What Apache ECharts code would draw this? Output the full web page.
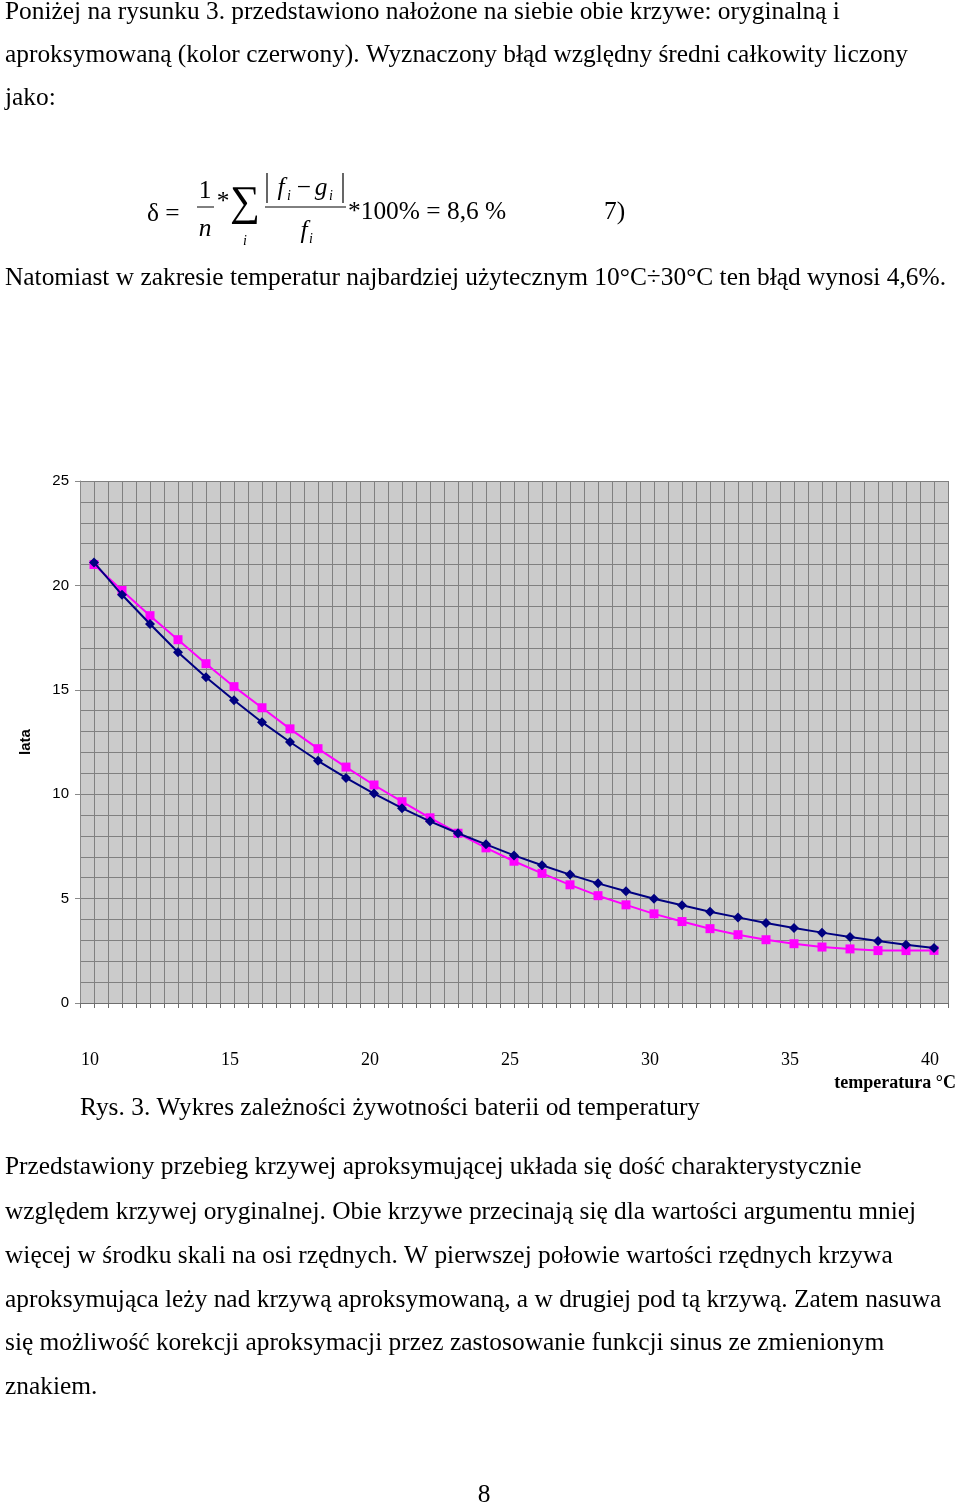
<!DOCTYPE html>
<html>
<head>
<meta charset="utf-8">
<script src="https://cdn.jsdelivr.net/npm/echarts@6/dist/echarts.min.js"></script>
<style>
html,body{margin:0;padding:0;background:#fff;}
#chart{width:960px;height:1505px;}
</style>
</head>
<body>
<div id="chart"></div>
<script>
// ---- data ----
const temperatures = [10,11,12,13,14,15,16,17,18,19,20,21,22,23,24,25,26,27,28,29,30,31,32,33,34,35,36,37,38,39,40];
const original = [21.1,19.55,18.15,16.8,15.6,14.5,13.45,12.5,11.6,10.78,10.03,9.33,8.7,8.13,7.6,7.07,6.6,6.15,5.73,5.35,4.99,4.68,4.37,4.1,3.83,3.59,3.37,3.16,2.97,2.79,2.63];
const approx = [21.0,19.76,18.55,17.4,16.25,15.15,14.14,13.13,12.18,11.3,10.44,9.64,8.87,8.13,7.43,6.79,6.21,5.66,5.14,4.7,4.27,3.9,3.56,3.27,3.03,2.84,2.68,2.59,2.51,2.51,2.52];
const yTicks = [0,5,10,15,20,25];
const xLabelTicks = [10,15,20,25,30,35,40];

const textTop = [
  'Poniżej na rysunku 3. przedstawiono nałożone na siebie obie krzywe: oryginalną i',
  'aproksymowaną (kolor czerwony). Wyznaczony błąd względny średni całkowity liczony',
  'jako:'
];
const textMid = 'Natomiast w zakresie temperatur najbardziej użytecznym 10°C÷30°C ten błąd wynosi 4,6%.';
const caption = 'Rys. 3. Wykres zależności żywotności baterii od temperatury';
const textBottom = [
  'Przedstawiony przebieg krzywej aproksymującej układa się dość charakterystycznie',
  'względem krzywej oryginalnej. Obie krzywe przecinają się dla wartości argumentu mniej',
  'więcej w środku skali na osi rzędnych. W pierwszej połowie wartości rzędnych krzywa',
  'aproksymująca leży nad krzywą aproksymowaną, a w drugiej pod tą krzywą. Zatem nasuwa',
  'się możliwość korekcji aproksymacji przez zastosowanie funkcji sinus ze zmienionym',
  'znakiem.'
];
const pageNumber = '8';

// ---- layout helpers ----
const SERIF = '"Liberation Serif","Times New Roman",serif';
const SANS = '"Liberation Sans",Arial,sans-serif';
const BODY = 25.4;
function txt(text, x, y, opts) {
  opts = opts || {};
  return {
    type: 'text', silent: true,
    style: {
      text: text, x: x, y: y,
      font: (opts.style || '') + ' ' + (opts.weight || 'normal') + ' ' + (opts.size || BODY) + 'px ' + (opts.family || SERIF),
      fill: '#000',
      align: opts.align || 'left', textAlign: opts.align || 'left',
      verticalAlign: 'middle', textVerticalAlign: 'middle'
    }
  };
}
function line(x1, y1, x2, y2, w) {
  return { type: 'line', silent: true, shape: {x1:x1,y1:y1,x2:x2,y2:y2}, style: {stroke:'#000', lineWidth: w || 1} };
}

const graphics = [];
[12, 55, 98].forEach((y, i) => graphics.push(txt(textTop[i], 5, y)));
graphics.push(txt(textMid, 5, 278));
// formula
graphics.push(txt('δ =', 147, 214));
graphics.push(txt('1', 205, 191, {align:'center'}));
graphics.push(line(197, 207, 214, 207, 1));
graphics.push(txt('n', 205, 229, {align:'center', style:'italic'}));
graphics.push(txt('*', 223, 202, {align:'center'}));
graphics.push(txt('∑', 245, 204, {align:'center', size:42}));
graphics.push(txt('i', 245, 241, {align:'center', style:'italic', size:14}));
graphics.push(line(267, 173, 267, 203, 1.2));
graphics.push(txt('f', 281, 188, {align:'center', style:'italic'}));
graphics.push(txt('i', 289, 196, {align:'center', style:'italic', size:14}));
graphics.push(txt('−', 304, 188, {align:'center'}));
graphics.push(txt('g', 321, 188, {align:'center', style:'italic'}));
graphics.push(txt('i', 331, 196, {align:'center', style:'italic', size:14}));
graphics.push(line(343, 173, 343, 203, 1.2));
graphics.push(line(265, 207, 346, 207, 1));
graphics.push(txt('f', 304, 231, {align:'center', style:'italic'}));
graphics.push(txt('i', 311, 239, {align:'center', style:'italic', size:14}));
graphics.push(txt('*100% = 8,6 %', 348, 212));
graphics.push(txt('7)', 604, 212));
// chart extras
graphics.push(txt('temperatura °C', 956, 1083, {align:'right', weight:'bold', size:18}));
graphics.push(txt(caption, 80, 1108));
[1167, 1212, 1256, 1300, 1343, 1387].forEach((y, i) => graphics.push(txt(textBottom[i], 5, y)));
graphics.push(txt(pageNumber, 484, 1495, {align:'center'}));

const chart = echarts.init(document.getElementById('chart'), null, {renderer: 'canvas'});
chart.setOption({
  backgroundColor: '#ffffff',
  animation: false,
  grid: {
    left: 80, right: 12, top: 481, bottom: 502,
    show: true, backgroundColor: '#cbcbcb', borderWidth: 0
  },
  xAxis: {
    type: 'value',
    min: 9.5, max: 40.5, interval: 0.5,
    axisLine: { show: true, onZero: false, lineStyle: { color: '#6e6e6e', width: 1 } },
    axisTick: { show: true, length: 5, inside: false, lineStyle: { color: '#6e6e6e' } },
    splitLine: { show: true, lineStyle: { color: '#808080', width: 1 } },
    axisLabel: {
      margin: 48,
      fontFamily: SERIF, fontSize: 18, color: '#000',
      padding: [0, 8, 0, 0],
      formatter: v => (xLabelTicks.indexOf(v) >= 0 ? String(v) : '')
    }
  },
  yAxis: {
    type: 'value',
    min: 0, max: 25, interval: 5,
    name: 'lata', nameLocation: 'middle', nameGap: 47, nameRotate: 90,
    nameTextStyle: { fontFamily: SANS, fontWeight: 'bold', fontSize: 15, color: '#000' },
    axisLine: { show: true, lineStyle: { color: '#8a8a8a', width: 1 } },
    axisTick: { show: true, length: 5, lineStyle: { color: '#8a8a8a' } },
    minorTick: { show: false, splitNumber: 5 },
    splitLine: { show: true, lineStyle: { color: '#808080', width: 1 } },
    minorSplitLine: { show: true, lineStyle: { color: '#808080', width: 1 } },
    axisLabel: {
      margin: 11, fontFamily: SANS, fontSize: 15, color: '#000',
      formatter: v => (yTicks.indexOf(v) >= 0 ? String(v) : '')
    }
  },
  series: [
    {
      name: 'oryginalna', type: 'line',
      data: temperatures.map((t, i) => [t, original[i]]),
      symbol: 'diamond', symbolSize: 10,
      lineStyle: { color: '#000080', width: 2 },
      itemStyle: { color: '#000080' },
      z: 3
    },
    {
      name: 'aproksymowana', type: 'line',
      data: temperatures.map((t, i) => [t, approx[i]]),
      symbol: 'rect', symbolSize: 9,
      lineStyle: { color: '#ff00ff', width: 2 },
      itemStyle: { color: '#ff00ff' },
      z: 2
    }
  ],
  graphic: graphics
});
</script>
</body>
</html>
